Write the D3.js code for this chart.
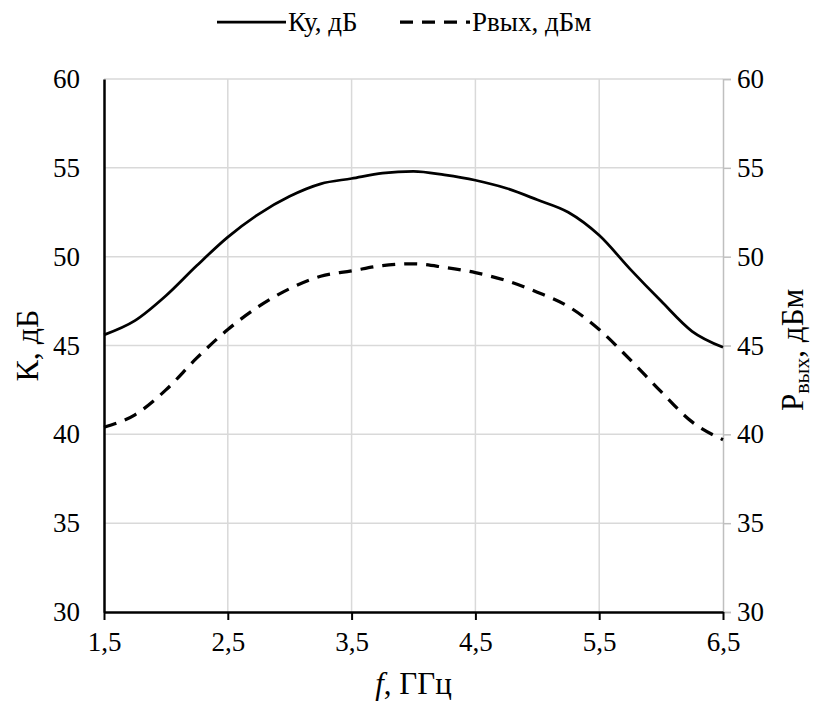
<!DOCTYPE html>
<html>
<head>
<meta charset="utf-8">
<script src="https://cdn.jsdelivr.net/npm/d3@7"></script>
<style>
  body { margin: 0; background: #fff; }
  text { font-family: "Liberation Serif", "Times New Roman", serif; fill: #000; }
</style>
</head>
<body>
<div id="container"></div>
<script>
/* DATA */
const freq = [1.5, 1.75, 2.0, 2.25, 2.5, 2.75, 3.0, 3.25, 3.5, 3.75, 4.0, 4.25, 4.5, 4.75, 5.0, 5.25, 5.5, 5.75, 6.0, 6.25, 6.5];
const gain = [45.6, 46.4, 47.8, 49.5, 51.1, 52.4, 53.4, 54.1, 54.4, 54.7, 54.8, 54.6, 54.3, 53.85, 53.2, 52.5, 51.2, 49.3, 47.5, 45.8, 44.9];
const pout = [40.4, 41.1, 42.5, 44.3, 45.9, 47.2, 48.2, 48.9, 49.2, 49.5, 49.6, 49.4, 49.1, 48.65, 48.0, 47.2, 45.9, 44.2, 42.4, 40.7, 39.7];
const xTicks = [1.5, 2.5, 3.5, 4.5, 5.5, 6.5];
const yTicks = [30, 35, 40, 45, 50, 55, 60];
const seriesNames = ["Ку, дБ", "Pвых, дБм"];

/* CONSTANTS */
const width = 821, height = 704;
const margin = { top: 79, bottom: 92, left: 104, right: 98 };
const tickFont = 27, titleFont = 32, legendFont = 27;

const svg = d3.select("#container")
  .append("svg")
  .attr("width", width)
  .attr("height", height);

/* SCALES */
const xScale = d3.scaleLinear()
  .domain([1.5, 6.5])
  .range([margin.left, width - margin.right]);

const yScale = d3.scaleLinear()
  .domain([30, 60])
  .range([height - margin.bottom, margin.top]);

const fmt = d => d3.format(".1f")(d).replace(".", ",");

/* GRID */
svg.append("g")
  .selectAll("line")
  .data(yTicks.filter(d => d > 30))
  .join("line")
  .attr("x1", margin.left).attr("x2", width - margin.right)
  .attr("y1", d => yScale(d)).attr("y2", d => yScale(d))
  .attr("stroke", "#d9d9d9").attr("stroke-width", 1.5);

svg.append("g")
  .selectAll("line")
  .data(xTicks.filter(d => d > 1.5 && d < 6.5))
  .join("line")
  .attr("x1", d => xScale(d)).attr("x2", d => xScale(d))
  .attr("y1", margin.top).attr("y2", height - margin.bottom)
  .attr("stroke", "#d9d9d9").attr("stroke-width", 1.5);

/* RIGHT AXIS (grey) */
const yRight = d3.axisRight(yScale).tickValues(yTicks).tickSize(8).tickFormat(d => d);
const gR = svg.append("g")
  .attr("transform", `translate(${width - margin.right},0)`)
  .call(yRight);
gR.select(".domain").attr("stroke", "#bfbfbf").attr("stroke-width", 1.5);
gR.selectAll(".tick line").attr("stroke", "#bfbfbf").attr("stroke-width", 1.5);
gR.selectAll(".tick text").attr("x", 14).attr("font-size", tickFont).style("font-family", "Liberation Serif");

/* LEFT AXIS */
const yLeft = d3.axisLeft(yScale).tickValues(yTicks).tickSize(0).tickFormat(d => d);
const gL = svg.append("g")
  .attr("transform", `translate(${margin.left},0)`)
  .call(yLeft);
gL.select(".domain").attr("stroke", "#000").attr("stroke-width", 2.5);
gL.selectAll(".tick text").attr("x", -24).attr("font-size", tickFont).style("font-family", "Liberation Serif");

/* BOTTOM AXIS */
const xAxis = d3.axisBottom(xScale).tickValues(xTicks).tickSize(8).tickSizeOuter(0).tickFormat(fmt);
const gX = svg.append("g")
  .attr("transform", `translate(0,${height - margin.bottom})`)
  .call(xAxis);
gX.select(".domain").attr("stroke", "#000").attr("stroke-width", 2.5);
gX.selectAll(".tick line").attr("stroke", "#000").attr("stroke-width", 2);
gX.selectAll(".tick text").attr("y", 20).attr("font-size", tickFont).style("font-family", "Liberation Serif");

/* LINES */
const line = vals => d3.line()
  .x((d, i) => xScale(freq[i]))
  .y(d => yScale(d))
  .curve(d3.curveMonotoneX)(vals);

svg.append("path")
  .attr("d", line(gain))
  .attr("fill", "none").attr("stroke", "#000").attr("stroke-width", 2.75);

svg.append("path")
  .attr("d", line(pout))
  .attr("fill", "none").attr("stroke", "#000").attr("stroke-width", 3.25)
  .attr("stroke-dasharray", "13,9");

/* AXIS TITLES */
svg.append("text")
  .attr("transform", `translate(38,${(margin.top + height - margin.bottom) / 2}) rotate(-90)`)
  .attr("text-anchor", "middle")
  .attr("font-size", titleFont)
  .text("К, дБ");

const rt = svg.append("text")
  .attr("transform", `translate(803,350) rotate(-90)`)
  .attr("text-anchor", "middle")
  .attr("font-size", 31);
rt.append("tspan").text("P");
rt.append("tspan").attr("font-size", 22).attr("dy", 6).text("вых");
rt.append("tspan").attr("dy", -6).text(", дБм");

const xt = svg.append("text")
  .attr("x", (margin.left + width - margin.right) / 2)
  .attr("y", 694)
  .attr("text-anchor", "middle")
  .attr("font-size", 31);
xt.append("tspan").attr("font-style", "italic").text("f");
xt.append("tspan").text(", ГГц");

/* LEGEND */
const leg = svg.append("g");
leg.append("line")
  .attr("x1", 217).attr("x2", 286).attr("y1", 22).attr("y2", 22)
  .attr("stroke", "#000").attr("stroke-width", 2.75);
leg.append("text")
  .attr("x", 288).attr("y", 31).attr("font-size", legendFont)
  .text(seriesNames[0]);
leg.append("line")
  .attr("x1", 400).attr("x2", 470).attr("y1", 22).attr("y2", 22)
  .attr("stroke", "#000").attr("stroke-width", 3.25)
  .attr("stroke-dasharray", "13,9");
leg.append("text")
  .attr("x", 472).attr("y", 31).attr("font-size", legendFont)
  .text(seriesNames[1]);
</script>
</body>
</html>
